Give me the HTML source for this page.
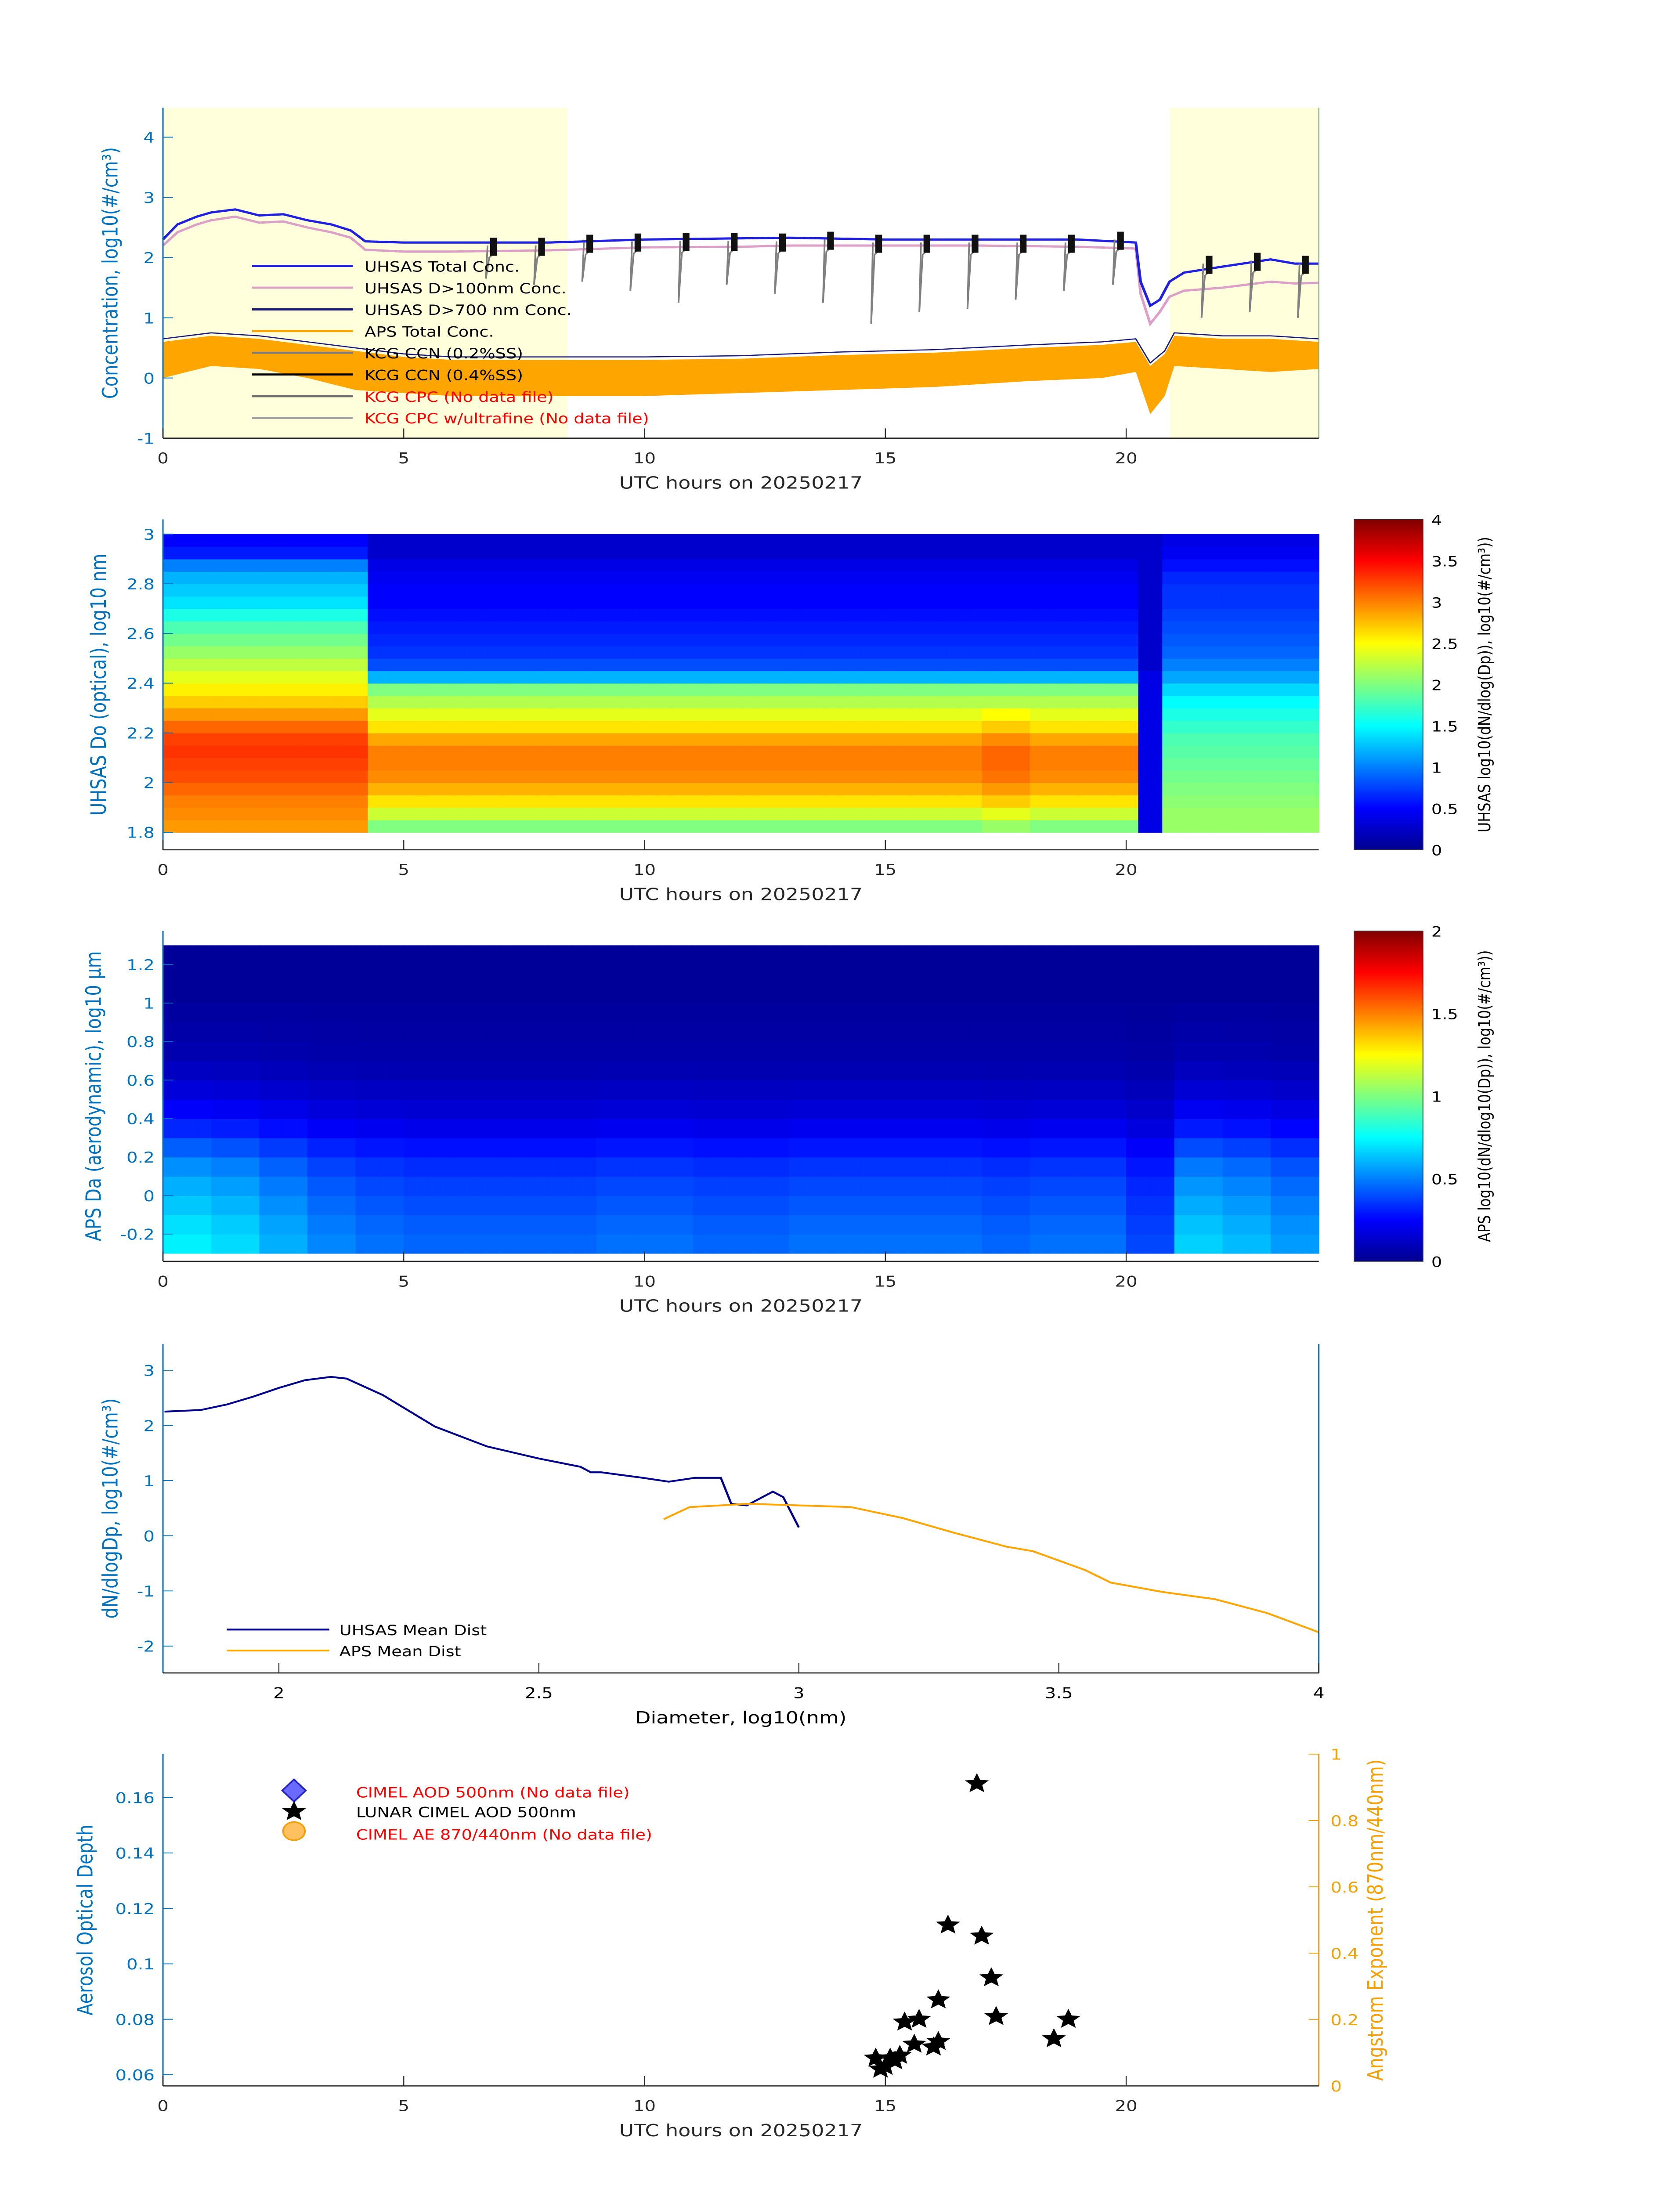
<!DOCTYPE html>
<html><head><meta charset="utf-8"><style>
html,body{margin:0;padding:0;background:#fff;overflow:hidden;width:100vw;height:100vh}
svg{display:block;width:100vw;height:100vh}
text{font-family:"DejaVu Sans","Liberation Sans",sans-serif}
</style></head><body>
<svg id="fig" xmlns="http://www.w3.org/2000/svg" viewBox="0 0 1000 1568.63" preserveAspectRatio="none">
<defs>
<linearGradient id="jet" x1="0" y1="1" x2="0" y2="0">
<stop offset="0" stop-color="#00008f"/><stop offset="0.125" stop-color="#0000ff"/><stop offset="0.375" stop-color="#00ffff"/><stop offset="0.625" stop-color="#ffff00"/><stop offset="0.875" stop-color="#ff0000"/><stop offset="1" stop-color="#800000"/>
</linearGradient>
</defs>
<g id="p1"></g>
<g id="p2"></g>
<g id="p3"></g>
<g id="p4"></g>
<g id="p5"></g>
</svg>
<script>
// ---------- data ----------
const totTimes=[0,0.3,0.7,1,1.5,2,2.5,3,3.5,3.9,4.2,5,6,8,10,12,13,15,17,19,20.2,20.3,20.5,20.7,20.9,21.2,22,23,23.5,24];
const totVals=[2.3,2.55,2.68,2.75,2.8,2.7,2.72,2.62,2.55,2.45,2.27,2.25,2.25,2.25,2.3,2.32,2.33,2.3,2.3,2.3,2.25,1.6,1.2,1.3,1.6,1.75,1.85,1.97,1.9,1.9];
const d100Vals=[2.2,2.42,2.55,2.62,2.68,2.58,2.6,2.5,2.42,2.33,2.13,2.1,2.1,2.12,2.17,2.18,2.2,2.2,2.2,2.18,2.15,1.4,0.9,1.1,1.35,1.45,1.5,1.6,1.57,1.58];
const apsTimes=[0,1,2,3,4,5,6,8,10,12,14,16,18,19.5,20.2,20.5,20.8,21,22,23,24];
const apsHi=[0.6,0.7,0.65,0.55,0.45,0.35,0.3,0.3,0.3,0.32,0.38,0.42,0.5,0.55,0.6,0.2,0.4,0.7,0.65,0.65,0.6];
const apsLo=[0.0,0.2,0.15,0.0,-0.2,-0.25,-0.3,-0.3,-0.3,-0.25,-0.2,-0.15,-0.05,0.0,0.1,-0.6,-0.3,0.2,0.15,0.1,0.15];
const ccnTimes=[6.74,7.74,8.74,9.74,10.74,11.74,12.74,13.74,14.74,15.74,16.74,17.74,18.74,19.76,21.6,22.6,23.6];
const ccnHigh=[2.25,2.25,2.3,2.32,2.33,2.33,2.32,2.35,2.3,2.3,2.3,2.3,2.3,2.35,1.95,2.0,1.95];
const ccnDrop=[1.65,1.55,1.6,1.45,1.25,1.55,1.4,1.25,0.9,1.1,1.15,1.3,1.45,1.55,1.0,1.1,1.0];
const uDiam=[1.8,1.85,1.9,1.95,2.0,2.05,2.1,2.15,2.2,2.25,2.3,2.35,2.4,2.45,2.5,2.55,2.6,2.65,2.7,2.75,2.8,2.85,2.9,2.95];
const uEarly=[2.9,2.95,3.0,3.1,3.2,3.25,3.3,3.25,3.1,2.9,2.7,2.55,2.4,2.25,2.1,1.95,1.8,1.6,1.4,1.3,1.2,1.0,0.6,0.5];
const uMid=[2.0,2.3,2.6,2.8,2.95,3.0,3.0,2.85,2.6,2.4,2.2,2.0,1.2,0.8,0.7,0.65,0.6,0.55,0.5,0.5,0.45,0.4,0.3,0.3];
const uLate=[2.1,2.1,2.05,2.0,1.95,1.9,1.85,1.8,1.7,1.6,1.5,1.35,1.15,1.0,0.9,0.85,0.8,0.75,0.7,0.7,0.65,0.55,0.45,0.4];
const uGap=[0.4,0.4,0.4,0.4,0.4,0.4,0.4,0.4,0.4,0.4,0.4,0.4,0.4,0.3,0.3,0.3,0.3,0.3,0.3,0.3,0.3,0.3,0.3,0.3];
const aDiam=[-0.3,-0.2,-0.1,0,0.1,0.2,0.3,0.4,0.5,0.6,0.7,0.8,0.9,1.0,1.1,1.2];
const aProfile=[0.42,0.4,0.37,0.34,0.3,0.24,0.17,0.12,0.08,0.05,0.03,0.02,0.01,0.0,0.0,0.0];
const aHourly=[1.6,1.5,1.3,1.1,1.0,0.95,0.95,0.95,0.95,1.0,1.0,0.95,0.95,1.0,1.0,1.0,1.0,0.95,1.0,1.0,0.8,1.45,1.35,1.2];
const uhsasX=[1.78,1.85,1.9,1.95,2.0,2.05,2.1,2.13,2.2,2.3,2.4,2.5,2.58,2.6,2.62,2.7,2.75,2.8,2.85,2.87,2.9,2.95,2.97,3.0];
const uhsasY=[2.25,2.28,2.38,2.52,2.68,2.82,2.88,2.85,2.55,1.98,1.62,1.4,1.25,1.15,1.15,1.05,0.98,1.05,1.05,0.58,0.55,0.8,0.7,0.15];
const apsX=[2.74,2.79,2.85,2.9,3.0,3.1,3.2,3.3,3.4,3.45,3.5,3.55,3.6,3.7,3.8,3.9,4.0];
const apsY=[0.3,0.52,0.55,0.58,0.55,0.52,0.32,0.05,-0.2,-0.28,-0.45,-0.62,-0.85,-1.02,-1.15,-1.4,-1.75];
const aodHours=[16.9,16.3,17.0,17.2,16.1,15.4,15.7,17.3,18.8,15.6,16.0,16.1,18.5,14.8,15.0,15.1,15.3,14.9,15.2];
const aodVals=[0.165,0.114,0.110,0.095,0.087,0.079,0.080,0.081,0.080,0.071,0.070,0.072,0.073,0.066,0.063,0.066,0.067,0.062,0.065];

const NS="http://www.w3.org/2000/svg";
function mk(parent,tag,attrs,txt){const e=document.createElementNS(NS,tag);for(const k in attrs)e.setAttribute(k,attrs[k]);if(txt!==undefined)e.textContent=txt;parent.appendChild(e);return e;}
const X0=97,X1=785;
const xh=h=>X0+(X1-X0)*h/24;
function interp(ts,vs,t){if(t<=ts[0])return vs[0];for(let i=1;i<ts.length;i++){if(t<=ts[i]){const f=(t-ts[i-1])/(ts[i]-ts[i-1]);return vs[i-1]+f*(vs[i]-vs[i-1]);}}return vs[vs.length-1];}
function jet(v){v=Math.max(0,Math.min(1,v));const r=Math.max(0,Math.min(1,1.5-Math.abs(4*v-3))),g=Math.max(0,Math.min(1,1.5-Math.abs(4*v-2))),b=Math.max(0,Math.min(1,1.5-Math.abs(4*v-1)));return `rgb(${Math.round(r*255)},${Math.round(g*255)},${Math.round(b*255)})`;}
const blue="#0072bd";
function xAxis(g,yb,label){mk(g,'line',{x1:X0,y1:yb,x2:X1,y2:yb,stroke:'#262626','stroke-width':0.8});
 [0,5,10,15,20].forEach(h=>{mk(g,'line',{x1:xh(h),y1:yb,x2:xh(h),y2:yb-7,stroke:'#262626','stroke-width':0.6});
 const t=mk(g,'text',{x:xh(h),y:yb+18,'font-size':10.5,'text-anchor':'middle',fill:'#262626'},h);});
 const t=mk(g,'text',{x:441,y:yb+36,'font-size':12,'text-anchor':'middle',fill:'#262626'},label);}
function yAxis(g,x,yt,yb,ticks,ymap,title,titleX,side){mk(g,'line',{x1:x,y1:yt,x2:x,y2:yb,stroke:side==='r'?'#f5a000':blue,'stroke-width':0.8});
 ticks.forEach(v=>{const y=ymap(v);mk(g,'line',{x1:x,y1:y,x2:side==='r'?x-6:x+6,y2:y,stroke:side==='r'?'#f5a000':blue,'stroke-width':0.6});
 const t=mk(g,'text',{x:side==='r'?x+7:x-5,y:y+4,'font-size':10.5,'text-anchor':side==='r'?'start':'end',fill:side==='r'?'#f5a000':blue},v);});
 const cy=(yt+yb)/2;const t=mk(g,'text',{x:titleX,y:cy,'font-size':12.5,'text-anchor':'middle',fill:side==='r'?'#f5a000':blue,transform:`rotate(-90 ${titleX} ${cy})`},title);}

// ---------- panel 1 ----------
(function(){const g=document.getElementById('p1');const yv=v=>270-43*v;
 let r=mk(g,'rect',{x:xh(0),y:77,width:xh(8.4)-xh(0),height:236,fill:'#ffffdc'});
 r=mk(g,'rect',{x:xh(20.9),y:77,width:X1-xh(20.9),height:236,fill:'#ffffdc'});
 let up=[],lo=[];for(let t=0;t<=24.001;t+=0.1){up.push(xh(t)+','+yv(interp(apsTimes,apsHi,t)));lo.unshift(xh(t)+','+yv(interp(apsTimes,apsLo,t)));}
 let p=mk(g,'polygon',{points:up.concat(lo).join(' '),fill:'#ffa500'});
 let pts=[];for(let t=0;t<=24.001;t+=0.1)pts.push(xh(t)+','+yv(interp(apsTimes,apsHi,t)+0.05));
 p=mk(g,'polyline',{points:pts.join(' '),fill:'none',stroke:'#1a1a7a','stroke-width':0.8});
 pts=[];for(let t=0;t<=24.001;t+=0.05)pts.push(xh(t)+','+yv(interp(totTimes,d100Vals,t)));
 p=mk(g,'polyline',{points:pts.join(' '),fill:'none',stroke:'#dca0c8','stroke-width':1.6});
 pts=[];for(let t=0;t<=24.001;t+=0.05)pts.push(xh(t)+','+yv(interp(totTimes,totVals,t)));
 p=mk(g,'polyline',{points:pts.join(' '),fill:'none',stroke:'#2020e0','stroke-width':1.6});
 ccnTimes.forEach((t,i)=>{const x=xh(t);
  let l=mk(g,'path',{d:`M${x} ${yv(ccnHigh[i]-0.05)} L${x-1} ${yv(ccnDrop[i])} L${x+1} ${yv(ccnHigh[i]-0.25)} L${x+5} ${yv(ccnHigh[i]-0.15)}`,fill:'none',stroke:'#808080','stroke-width':1});
  l=mk(g,'rect',{x:x+1.5,y:yv(ccnHigh[i]+0.08),width:4,height:43*0.3,fill:'#111'});});
 yAxis(g,X0,77,313,[-1,0,1,2,3,4],yv,'Concentration, log10(#/cm³)',70);
 mk(g,'line',{x1:X1,y1:77,x2:X1,y2:313,stroke:'#8a8',"stroke-width":0.6});
 xAxis(g,313,'UTC hours on 20250217');
 const leg=[['UHSAS Total Conc.','#2020e0','#000'],['UHSAS D>100nm Conc.','#dca0c8','#000'],['UHSAS D>700 nm Conc.','#1a1a7a','#000'],['APS Total Conc.','#ffa500','#000'],['KCG CCN (0.2%SS)','#808080','#000'],['KCG CCN (0.4%SS)','#000','#000'],['KCG CPC (No data file)','#707070','#f00'],['KCG CPC w/ultrafine (No data file)','#a0a0a0','#f00']];
 leg.forEach((L,i)=>{const y=190+15.5*i;const e=mk(g,'g',{});
  mk(e,'line',{x1:150,y1:y,x2:210,y2:y,stroke:L[1],'stroke-width':1.5});mk(e,'text',{x:217,y:y+4,'font-size':10,fill:L[2]},L[0]);});
})();

// ---------- panel 2 ----------
const uTimes=[];for(let h=0;h<24;h+=0.25)uTimes.push(h);
(function(){const g=document.getElementById('p2');const yd=d=>559-(d-2)*177.5;
 uTimes.forEach(t=>{const tc=t+0.125;let prof=tc<4.15?uEarly:(tc>20.3&&tc<20.85?uGap:(tc>=20.85?uLate:uMid));
  uDiam.forEach((d,j)=>{let v=prof[j];if(tc>=17&&tc<18&&d<2.3)v+=0.1;const c=mk(g,'rect',{x:xh(t),y:yd(d+0.05),width:xh(0.25)-xh(0)+0.3,height:yd(d)-yd(d+0.05)+0.3,fill:jet(v/4)});
  });});
 yAxis(g,X0,371,607,[1.8,2,2.2,2.4,2.6,2.8,3],yd,'UHSAS Do (optical), log10 nm',63);
 xAxis(g,607,'UTC hours on 20250217');
 let cb=mk(g,'rect',{x:806,y:371,width:41,height:236,fill:'url(#jet)',stroke:'#333','stroke-width':0.5});
 [0,0.5,1,1.5,2,2.5,3,3.5,4].forEach(v=>{const t=mk(g,'text',{x:852,y:607-v*59+4,'font-size':10},v);});
 const t=mk(g,'text',{x:887,y:489,'font-size':10,'text-anchor':'middle',transform:'rotate(-90 887 489)'},'UHSAS log10(dN/dlog(Dp)), log10(#/cm³))');
})();

// ---------- panel 3 ----------
(function(){const g=document.getElementById('p3');const yd=d=>854-d*137.5;
 for(let h=0;h<24;h+=0.25){const m=aHourly[Math.floor(h)];
  aDiam.forEach((d,j)=>{const v=aProfile[j]*m+0.05;const c=mk(g,'rect',{x:xh(h),y:yd(d+0.1),width:xh(0.25)-xh(0)+0.3,height:yd(d)-yd(d+0.1)+0.3,fill:jet(v/2)});
  });}
 yAxis(g,X0,665,901,[-0.2,0,0.2,0.4,0.6,0.8,1,1.2],yd,'APS Da (aerodynamic), log10 μm',60);
 xAxis(g,901,'UTC hours on 20250217');
 let cb=mk(g,'rect',{x:806,y:665,width:41,height:236,fill:'url(#jet)',stroke:'#333','stroke-width':0.5});
 [0,0.5,1,1.5,2].forEach(v=>{const t=mk(g,'text',{x:852,y:901-v*118+4,'font-size':10},v);});
 const t=mk(g,'text',{x:887,y:783,'font-size':10,'text-anchor':'middle',transform:'rotate(-90 887 783)'},'APS log10(dN/dlog10(Dp)), log10(#/cm³))');
})();

// ---------- panel 4 ----------
(function(){const g=document.getElementById('p4');const xd=d=>166+(d-2)*309.5;const yv=v=>1097-39.4*v;
 let p=mk(g,'polyline',{points:uhsasX.map((x,i)=>xd(x)+','+yv(uhsasY[i])).join(' '),fill:'none',stroke:'#00008b','stroke-width':1.3});
 p=mk(g,'polyline',{points:apsX.map((x,i)=>xd(x)+','+yv(apsY[i])).join(' '),fill:'none',stroke:'#ffa500','stroke-width':1.3});
 yAxis(g,X0,960,1195,[-2,-1,0,1,2,3],yv,'dN/dlogDp, log10(#/cm³)',70);
 mk(g,'line',{x1:X1,y1:960,x2:X1,y2:1195,stroke:blue,'stroke-width':0.8});
 mk(g,'line',{x1:X0,y1:1195,x2:X1,y2:1195,stroke:'#262626','stroke-width':0.8});
 [2,2.5,3,3.5,4].forEach(d=>{mk(g,'line',{x1:xd(d),y1:1195,x2:xd(d),y2:1188,stroke:'#262626','stroke-width':0.6});const t=mk(g,'text',{x:xd(d),y:1213,'font-size':10.5,'text-anchor':'middle'},d);});
 let t=mk(g,'text',{x:441,y:1231,'font-size':12,'text-anchor':'middle'},'Diameter,  log10(nm)');
 [['UHSAS Mean Dist','#00008b'],['APS Mean Dist','#ffa500']].forEach((L,i)=>{const y=1164+15*i;const e=mk(g,'g',{});mk(e,'line',{x1:135,y1:y,x2:196,y2:y,stroke:L[1],'stroke-width':1.3});mk(e,'text',{x:202,y:y+4,'font-size':10},L[0]);});
})();

// ---------- panel 5 ----------
(function(){const g=document.getElementById('p5');const ya=v=>1482-(v-0.06)*1980;const yr=v=>1490-237*v;
 function star(cx,cy,r){let s='';for(let i=0;i<10;i++){const a=-Math.PI/2+i*Math.PI/5;const rr=i%2?r*0.45:r;s+=(i?'L':'M')+(cx+rr*Math.cos(a)).toFixed(2)+' '+(cy+rr*Math.sin(a)).toFixed(2);}return s+'Z';}
 aodHours.forEach((h,i)=>{const s=mk(g,'path',{d:star(xh(h),ya(aodVals[i]),7.5),fill:'#000'});});
 yAxis(g,X0,1253,1490,[0.06,0.08,0.1,0.12,0.14,0.16],ya,'Aerosol Optical Depth',55);
 yAxis(g,X1,1253,1490,[0,0.2,0.4,0.6,0.8,1],yr,'Angstrom Exponent (870nm/440nm)',823,'r');
 xAxis(g,1490,'UTC hours on 20250217');
 let e=mk(g,'g',{});
 mk(e,'path',{d:'M175 1271 L182 1279 L175 1287 L168 1279Z',fill:'#6a6aff',stroke:'#2020c0','stroke-width':1});mk(e,'text',{x:212,y:1284,'font-size':10,fill:'#f00'},'CIMEL AOD 500nm (No data file)');
 e=mk(g,'g',{});
 mk(e,'path',{d:star(175,1294,7.5),fill:'#000'});mk(e,'text',{x:212,y:1298,'font-size':10},'LUNAR CIMEL AOD 500nm');
 e=mk(g,'g',{});
 mk(e,'circle',{cx:175,cy:1308,r:6.5,fill:'#ffc060',stroke:'#f5a000','stroke-width':1});mk(e,'text',{x:212,y:1314,'font-size':10,fill:'#f00'},'CIMEL AE 870/440nm (No data file)');
})();
</script>
</body></html>
